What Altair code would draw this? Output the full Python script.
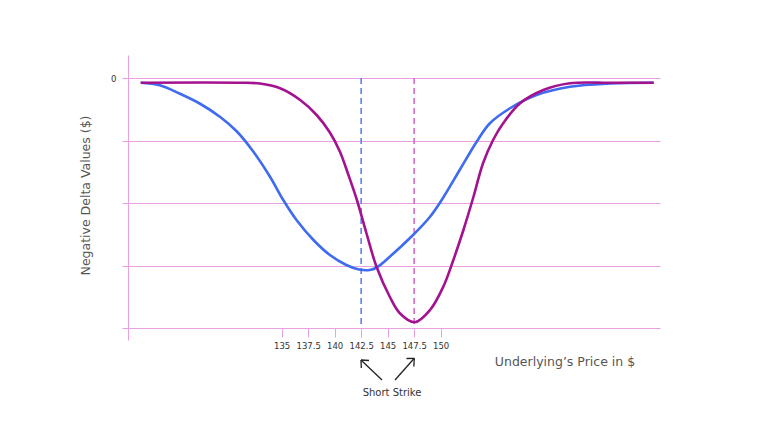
import altair as alt
import pandas as pd

# Blue curve (wider spread)
blue_x = [121.7, 123.5, 125.4, 127.3, 129.2, 130.75, 132.3, 133.9, 135.15, 136.4, 138.0, 139.55,
          141.1, 142.3, 143.3, 144.0, 145.2, 147.4, 149.0, 150.1, 151.8, 153.4, 154.65, 156.55,
          159.05, 162.2, 166.0, 170.1]
blue_y = [-0.019, -0.029, -0.063, -0.103, -0.156, -0.213, -0.293, -0.395, -0.488, -0.568, -0.648, -0.708,
          -0.748, -0.766, -0.768, -0.757, -0.715, -0.628, -0.555, -0.488, -0.368, -0.255, -0.181, -0.121,
          -0.068, -0.035, -0.022, -0.019]

# Magenta curve (narrower, deeper)
mag_x = [121.7, 131.0, 132.95, 134.85, 136.75, 138.3, 139.55, 140.5, 141.3, 142.1, 143.0, 143.95,
         145.2, 146.15, 147.55, 149.0, 150.25, 151.2, 152.15, 153.1, 154.0, 154.95, 155.9, 157.5,
         159.7, 162.2, 166.0, 170.1]
mag_y = [-0.019, -0.019, -0.022, -0.041, -0.088, -0.148, -0.218, -0.295, -0.388, -0.488, -0.621, -0.755,
         -0.875, -0.941, -0.977, -0.928, -0.835, -0.728, -0.608, -0.475, -0.341, -0.248, -0.181, -0.101,
         -0.048, -0.021, -0.019, -0.019]

strikes = [142.5, 147.5]
strike_series = ["blue strike", "magenta strike"]
x_ticks = [135, 137.5, 140, 142.5, 145, 147.5, 150]
y_ticks = [0, -0.25, -0.5, -0.75, -1.0]

BLUE = "#3e6bef"
MAG = "#a3128f"
PINK = "#e8a0e0"
FONT = "DejaVu Sans"

df = pd.DataFrame({
    "price": blue_x + mag_x,
    "delta": blue_y + mag_y,
    "series": ["blue"] * len(blue_x) + ["magenta"] * len(mag_x),
})
sdf = pd.DataFrame({"price": strikes, "series": strike_series, "top": [0, 0], "bot": [-1.0, -1.0]})

xs = alt.Scale(domain=[120.5, 170.7], nice=False, zero=False)
ys = alt.Scale(domain=[-1.048, 0.092], nice=False, zero=False)

lines = alt.Chart(df).mark_line(strokeWidth=2.6, interpolate="catmull-rom").encode(
    x=alt.X("price:Q", scale=xs, axis=alt.Axis(
        values=x_ticks, domain=False, grid=False, ticks=True, tickSize=9, tickColor=PINK,
        offset=-12, labelExpr="'' + datum.value", labelFont=FONT, labelFontSize=8.5,
        labelColor="#333", labelPadding=4, title=None)),
    y=alt.Y("delta:Q", scale=ys, axis=alt.Axis(
        values=y_ticks, domain=True, domainColor=PINK, grid=True, gridColor=PINK,
        ticks=True, tickSize=6, tickColor=PINK, labelExpr="datum.value == 0 ? '0' : ''",
        labelFont=FONT, labelFontSize=8.5, labelColor="#333", labelPadding=6,
        title="Negative Delta Values ($)", titleFont=FONT, titleFontSize=12.5,
        titleFontWeight="normal", titleColor="#555", titleX=-43, titleY=140,
        titleAngle=-90, titleAlign="center", titleBaseline="middle")),
    color=alt.Color("series:N", scale=alt.Scale(domain=["blue", "magenta"], range=[BLUE, MAG]), legend=None),
    detail="series:N",
)

dashes = alt.Chart(sdf).mark_rule(strokeDash=[6, 4], strokeWidth=1.6).encode(
    x="price:Q", y="top:Q", y2="bot:Q",
    stroke=alt.Stroke("series:N", scale=alt.Scale(domain=strike_series, range=["#5a84f0", "#d56cc4"]), legend=None),
)

# annotations (pixel positions relative to plot origin at (128,55))
ox, oy = 128, 55
xtitle = alt.Chart(pd.DataFrame({"t": ["Underlying\u2019s Price in $"]})).mark_text(
    font=FONT, fontSize=12.5, color="#555", align="center", baseline="middle").encode(
    text="t:N", x=alt.value(565 - ox), y=alt.value(362 - oy))
short = alt.Chart(pd.DataFrame({"t": ["Short Strike"]})).mark_text(
    font=FONT, fontSize=10, color="#333", align="center", baseline="middle").encode(
    text="t:N", x=alt.value(392 - ox), y=alt.value(393 - oy))

def seg(x1, y1, x2, y2):
    return alt.Chart(pd.DataFrame({"a": [0]})).mark_rule(color="#222", strokeWidth=1.3).encode(
        x=alt.value(x1 - ox), x2=alt.value(x2 - ox), y=alt.value(y1 - oy), y2=alt.value(y2 - oy))

arrows = [
    seg(382, 380, 361, 360), seg(361, 360, 369, 360.5), seg(361, 360, 361.3, 368),
    seg(395, 380, 414.3, 358.3), seg(414.3, 358.3, 406.5, 358.5), seg(414.3, 358.3, 413.8, 366.5),
]

chart = alt.layer(dashes, lines, xtitle, short, *arrows).properties(
    width=532, height=285,
    autosize=alt.AutoSizeParams(type="none"),
    padding={"left": 120, "top": 47, "right": 100, "bottom": 79},
).resolve_scale(color="independent", stroke="independent").configure(
    background="white", view=alt.ViewConfig(strokeWidth=0, stroke="transparent"))

chart.save("out.html", embed_options={"renderer": "svg", "actions": False})
